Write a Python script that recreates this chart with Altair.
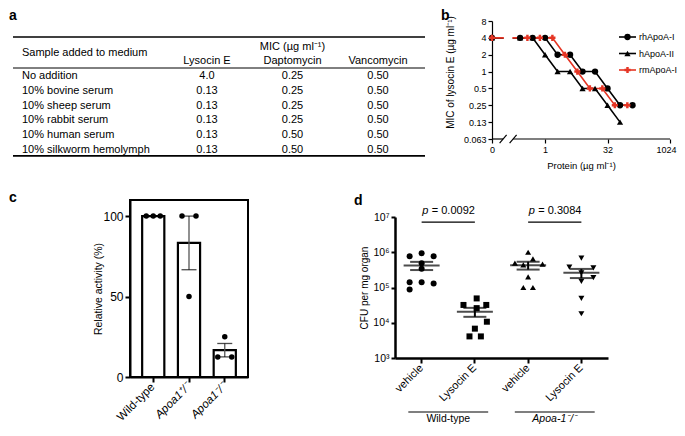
import math
import altair as alt
import pandas as pd

W, H = 669, 416
FONT = "Liberation Sans"
RED = "#e53524"

# ---------------- panel a: table ----------------
a_samples = ["No addition", "10% bovine serum", "10% sheep serum",
             "10% rabbit serum", "10% human serum", "10% silkworm hemolymph"]
a_columns = ["Lysocin E", "Daptomycin", "Vancomycin"]
a_lysocin = [4.0, 0.13, 0.13, 0.13, 0.13, 0.13]
a_daptomycin = [0.25, 0.25, 0.25, 0.25, 0.50, 0.50]
a_vancomycin = [0.50, 0.50, 0.50, 0.50, 0.50, 0.50]
a_header = "Sample added to medium"
a_mic_title = "MIC (µg ml⁻¹)"

# ---------------- panel b ----------------
b_series = ["rhApoA-I", "hApoA-II", "rmApoA-I"]
b_rh_protein = [0, 0.25, 0.5, 1, 2, 4, 8, 16, 32, 64, 128]
b_rh_mic = [4, 4, 4, 4, 2, 2, 1, 1, 0.5, 0.25, 0.25]
b_h_protein = [0, 0.25, 0.5, 1, 2, 4, 8, 16, 32, 64]
b_h_mic = [4, 4, 4, 2, 1, 1, 0.5, 0.5, 0.25, 0.125]
b_rm_protein = [0, 0.375, 0.75, 1.5, 3, 6, 12, 24, 48, 96]
b_rm_mic = [4, 4, 4, 4, 2, 1, 0.5, 0.5, 0.25, 0.25]
b_xticks = [0, 1, 32, 1024]
b_yticks = [0.0625, 0.125, 0.25, 0.5, 1, 2, 4, 8]
b_ytick_labels = ["0.063", "0.13", "0.25", "0.5", "1", "2", "4", "8"]

# ---------------- panel c ----------------
c_genotypes = ["Wild-type", "Apoa1⁺/⁻", "Apoa1⁻/⁻"]
c_wt = [100, 100, 100]
c_het = [100, 50, 100]
c_ko = [12.5, 25, 12.5]
c_jitter = [-1, 0, 1]
c_yticks = [0, 50, 100]

# ---------------- panel d ----------------
d_groups = ["Wild-type|vehicle", "Wild-type|Lysocin E", "Apoa-1|vehicle", "Apoa-1|Lysocin E"]
d_wt_vehicle = [7.7e5, 9.4e5, 7.7e5, 4.9e5, 3.4e5, 1.4e5, 1.4e5, 1.3e5, 8.8e4]
d_wt_vehicle_jitter = [-1, 0, 1, 0, 0, -1, 0, 1, -1]
d_wt_lysocin = [4.9e4, 3.2e4, 2.6e4, 3.2e4, 1.07e4, 6.8e3, 4.1e3, 4.1e3]
d_wt_lysocin_jitter = [0.15, -0.95, 0.15, 0.95, 1.0, 0.0, -0.45, 0.5]
d_ko_vehicle = [1.0e6, 6.5e5, 4.9e5, 4.6e5, 4.4e5, 2.0e5, 1.0e5, 1.0e5]
d_ko_vehicle_jitter = [0, 0.4, -1.1, 1.2, -0.4, 0, -0.4, 0.4]
d_ko_lysocin = [6.8e5, 3.8e5, 3.6e5, 2.6e5, 1.9e5, 1.5e5, 4.9e4, 1.8e4]
d_ko_lysocin_jitter = [0, -1, 1, 0, 1, 0, 0, 0]
d_yticks = [1e3, 1e4, 1e5, 1e6, 1e7]
d_ytick_labels = ["10³", "10⁴", "10⁵", "10⁶", "10⁷"]
d_p_values = ["0.0092", "0.3084"]
d_genotype_labels = ["Wild-type", "Apoa-1⁻/⁻"]


def label_expr(values, labels):
    parts = [f"datum.value == {v!r} ? '{l}'" for v, l in zip(values, labels)]
    return " : ".join(parts) + " : ''"


one = pd.DataFrame({"k": [0]})
layers = []

# ================= panel a =================
def fmt(v):
    return f"{v:.1f}" if v >= 1 else f"{v:.2f}"

a_rows = []
for i, s in enumerate(a_samples):
    for col, vals in zip(a_columns, [a_lysocin, a_daptomycin, a_vancomycin]):
        a_rows.append({"row": i, "column": col, "text": fmt(vals[i])})
a_cells = pd.DataFrame(a_rows)
a_names = pd.DataFrame({"row": list(range(len(a_samples))), "sample": a_samples})

TY = alt.Scale(domain=[-3, 6], range=[23.6, 156.8], nice=False, zero=False)
TX = alt.Scale(type="point", domain=a_columns, range=[199, 370], padding=0)

a_rules = pd.DataFrame({"pos": [-2.64, -0.54, 5.4], "w": [1.6, 1.0, 1.6]})
layers.append(alt.Chart(a_rules).mark_rule(color="black").encode(
    y=alt.Y("pos:Q", scale=TY, axis=None), x=alt.value(5), x2=alt.value(417),
    strokeWidth=alt.StrokeWidth("w:Q", scale=None)))
layers.append(alt.Chart(a_cells).mark_text(fontSize=11, baseline="middle").encode(
    x=alt.X("column:N", scale=TX, axis=None),
    y=alt.Y("row:Q", scale=TY, axis=None),
    text="text:N"))
layers.append(alt.Chart(pd.DataFrame({"column": a_columns})).mark_text(
    fontSize=11, baseline="middle").encode(
    x=alt.X("column:N", scale=TX, axis=None),
    y=alt.YDatum(-1.0, type="quantitative", scale=TY, axis=None),
    text="column:N"))
layers.append(alt.Chart(pd.DataFrame({"t": [a_mic_title]})).mark_text(
    fontSize=11, baseline="middle").encode(
    x=alt.XDatum("Daptomycin", type="nominal", scale=TX, axis=None),
    y=alt.YDatum(-1.96, type="quantitative", scale=TY, axis=None), text="t:N"))
layers.append(alt.Chart(a_names).mark_text(fontSize=11, baseline="middle", align="left").encode(
    x=alt.value(14), y=alt.Y("row:Q", scale=TY, axis=None), text="sample:N"))
layers.append(alt.Chart(pd.DataFrame({"t": [a_header]})).mark_text(
    fontSize=11, baseline="middle", align="left").encode(
    x=alt.value(14), y=alt.YDatum(-1.55, type="quantitative", scale=TY, axis=None), text="t:N"))

# ================= panel b =================
BREAK = -4.25
b_rows = []
for name, prot, mic in zip(b_series, [b_rh_protein, b_h_protein, b_rm_protein],
                           [b_rh_mic, b_h_mic, b_rm_mic]):
    for p, m in zip(prot, mic):
        b_rows.append({"series": name, "protein": p, "mic": m})
b_df = pd.DataFrame(b_rows)
b_df["px"] = [BREAK if p == 0 else math.log2(p) for p in b_df["protein"]]
b_xpos = [BREAK if v == 0 else math.log2(v) for v in b_xticks]

BX = alt.Scale(domain=[BREAK, 10], range=[484, 662], nice=False, zero=False)
BY = alt.Scale(type="log", base=2, domain=[0.0625, 8], range=[131, 13], nice=False)
b_color = alt.Color("series:N", scale=alt.Scale(domain=b_series, range=["black", "black", RED]), legend=None)
b_shape = alt.Shape("series:N", scale=alt.Scale(domain=b_series, range=["circle", "triangle-up", "cross"]), legend=None)
b_size = alt.Size("series:N", scale=alt.Scale(domain=b_series, range=[40, 38, 30]), legend=None)

b_last = b_xpos[-1]
b_xaxis = alt.Axis(orient="bottom", offset=131 - H, values=b_xpos,
                   labelExpr="datum.value < -4 ? '0' : format(pow(2, datum.value), 'd')",
                   domain=False, tickSize=4, tickWidth=1.2, labelFontSize=9, labelPadding=2,
                   labelFlush=False, labelOverlap=False,
                   labelAlign={"condition": {"test": f"datum.value == {b_last}", "value": "right"},
                               "value": "center"},
                   labelOffset={"condition": {"test": f"datum.value == {b_last}", "value": 6},
                                "value": 0},
                   title="Protein (µg ml⁻¹)", titleFontSize=9.5, titleX=573, titleY=26,
                   titleBaseline="middle")
b_yaxis = alt.Axis(orient="left", offset=-484, values=b_yticks,
                   labelExpr=label_expr(b_yticks, b_ytick_labels),
                   tickSize=4, tickWidth=1.2, domainWidth=1.2, labelFontSize=9, labelPadding=2,
                   labelOverlap=False,
                   title="MIC of lysocin E (µg ml⁻¹)", titleFontSize=10, titleX=-42, titleY=64,
                   titleBaseline="middle")

layers.append(alt.Chart(b_df).transform_filter("datum.series != 'rmApoA-I'").mark_line(
    strokeWidth=1.6).encode(
    x=alt.X("px:Q", scale=BX, axis=b_xaxis), y=alt.Y("mic:Q", scale=BY, axis=b_yaxis),
    color=b_color, detail="series:N", order="px:Q"))
layers.append(alt.Chart(b_df).transform_filter("datum.series == 'rmApoA-I'").mark_line(
    strokeWidth=1.6).encode(
    x=alt.X("px:Q", scale=BX, axis=None), y=alt.Y("mic:Q", scale=BY, axis=None),
    color=b_color, order="px:Q"))
layers.append(alt.Chart(one).mark_rect(color="white").encode(
    x=alt.XDatum(-3.3, type="quantitative", scale=BX, axis=None), x2=alt.X2Datum(-2.62),
    y=alt.YDatum(3.0, type="quantitative", scale=BY, axis=None), y2=alt.Y2Datum(5.3)))
layers.append(alt.Chart(b_df).transform_filter("datum.series != 'rmApoA-I'").mark_point(
    filled=True, opacity=1).encode(
    x=alt.X("px:Q", scale=BX, axis=None), y=alt.Y("mic:Q", scale=BY, axis=None),
    color=b_color, shape=b_shape, size=b_size))
layers.append(alt.Chart(b_df).transform_filter("datum.series == 'rmApoA-I'").mark_point(
    filled=True, opacity=1).encode(
    x=alt.X("px:Q", scale=BX, axis=None), y=alt.Y("mic:Q", scale=BY, axis=None),
    color=b_color, shape=b_shape, size=b_size))
ylo, yhi = 0.0625 * 2 ** -0.24, 0.0625 * 2 ** 0.24
b_segs = pd.DataFrame({
    "x1": [BREAK, -2.56, -3.36 - 0.28, -2.56 - 0.28],
    "x2": [-3.36, 10, -3.36 + 0.28, -2.56 + 0.28],
    "y1": [0.0625, 0.0625, ylo, ylo],
    "y2": [0.0625, 0.0625, yhi, yhi]})
layers.append(alt.Chart(b_segs).mark_rule(color="black", strokeWidth=1.2).encode(
    x=alt.X("x1:Q", scale=BX, axis=None), x2="x2:Q",
    y=alt.Y("y1:Q", scale=BY, axis=None), y2="y2:Q"))

# legend of panel b
leg_df = pd.DataFrame({"series": b_series})
LYS = alt.Scale(type="point", domain=b_series, range=[29, 62], padding=0)
LXS = alt.Scale(domain=[0, 1], range=[611, 628], nice=False, zero=False)
layers.append(alt.Chart(leg_df).mark_rule(strokeWidth=1.6).encode(
    x=alt.XDatum(0, type="quantitative", scale=LXS, axis=None), x2=alt.X2Datum(1),
    y=alt.Y("series:N", scale=LYS, axis=None), color=b_color))
layers.append(alt.Chart(leg_df).mark_point(filled=True, opacity=1).encode(
    x=alt.XDatum(0.5, type="quantitative", scale=LXS, axis=None),
    y=alt.Y("series:N", scale=LYS, axis=None),
    color=b_color, shape=b_shape, size=b_size))
layers.append(alt.Chart(leg_df).mark_text(align="left", dx=3, fontSize=9, baseline="middle").encode(
    x=alt.XDatum(1, type="quantitative", scale=LXS, axis=None),
    y=alt.Y("series:N", scale=LYS, axis=None), text="series:N"))

# ================= panel c =================
c_rows = []
for g, vals in zip(c_genotypes, [c_wt, c_het, c_ko]):
    for v, j in zip(vals, c_jitter):
        c_rows.append({"genotype": g, "value": v, "jitter": j})
c_df = pd.DataFrame(c_rows)

CX = alt.Scale(domain=c_genotypes, range=[122, 240], paddingInner=0.38, paddingOuter=0.34)
CY = alt.Scale(domain=[0, 110], range=[369, 192], nice=False, zero=False)
c_xaxis = alt.Axis(orient="bottom", offset=369 - H, tickSize=5, tickWidth=2, domainWidth=2,
                   labelAngle=-45, labelAlign="right", labelBaseline="middle", labelFontSize=11.5,
                   labelPadding=3, labelOverlap=False,
                   labelFontStyle={"condition": {"test": "datum.value != 'Wild-type'", "value": "italic"},
                                   "value": "normal"},
                   title=None)
c_yaxis = alt.Axis(orient="left", offset=-122, values=c_yticks, tickSize=5, tickWidth=2,
                   domainWidth=2, labelFontSize=12, labelPadding=2,
                   title="Relative activity (%)", titleFontSize=10.5, titleX=-32, titleY=280.5,
                   titleBaseline="middle")
layers.append(alt.Chart(c_df).transform_aggregate(mean="mean(value)", groupby=["genotype"]).mark_bar(
    fill="white", stroke="black", strokeWidth=2.2).encode(
    x=alt.X("genotype:N", scale=CX, axis=c_xaxis), y=alt.Y("mean:Q", scale=CY, axis=c_yaxis)))
c_stats = alt.Chart(c_df).transform_aggregate(
    mean="mean(value)", sem="stderr(value)", groupby=["genotype"]).transform_calculate(
    lo="datum.mean - datum.sem", hi="datum.mean + datum.sem")
layers.append(c_stats.mark_rule(color="#555", strokeWidth=1.3).encode(
    x=alt.X("genotype:N", scale=CX, axis=None), y=alt.Y("lo:Q", scale=CY, axis=None), y2="hi:Q"))
layers.append(c_stats.transform_fold(["lo", "hi"], as_=["k", "v"]).mark_tick(
    size=15, thickness=1.3, color="black").encode(
    x=alt.X("genotype:N", scale=CX, axis=None), y=alt.Y("v:Q", scale=CY, axis=None)))
layers.append(alt.Chart(c_df).mark_circle(size=30, color="black", opacity=1).encode(
    x=alt.X("genotype:N", scale=CX, axis=None),
    xOffset=alt.XOffset("jitter:Q", scale=alt.Scale(domain=[-1, 1], range=[4.1, 18.1])),
    y=alt.Y("value:Q", scale=CY, axis=None)))
layers.append(alt.Chart(one).mark_rect(fillOpacity=0, stroke="black", strokeWidth=2).encode(
    x=alt.XDatum(0, type="quantitative",
                 scale=alt.Scale(domain=[0, 1], range=[122, 240], nice=False, zero=False), axis=None),
    x2=alt.X2Datum(1),
    y=alt.YDatum(0, type="quantitative", scale=CY, axis=None), y2=alt.Y2Datum(110)))

# ================= panel d =================
d_rows = []
for g, vals, jit in zip(d_groups, [d_wt_vehicle, d_wt_lysocin, d_ko_vehicle, d_ko_lysocin],
                        [d_wt_vehicle_jitter, d_wt_lysocin_jitter, d_ko_vehicle_jitter, d_ko_lysocin_jitter]):
    for v, j in zip(vals, jit):
        d_rows.append({"group": g, "value": v, "jitter": j})
d_df = pd.DataFrame(d_rows)

D_LEFT, D_RIGHT = 387, 600
D_HALF_STEP = (D_RIGHT - D_LEFT) / len(d_groups) / 2
DX = alt.Scale(domain=d_groups, range=[D_LEFT, D_RIGHT], paddingInner=0, paddingOuter=0)
DY = alt.Scale(type="log", domain=[1e3, 1e7], range=[350, 209], nice=False)
d_xaxis = alt.Axis(orient="bottom", offset=350 - H, labelExpr="split(datum.value, '|')[1]",
                   tickSize=5, tickWidth=2, domainWidth=2.5, labelAngle=-45, labelAlign="right",
                   labelBaseline="middle", labelFontSize=11, labelPadding=3, labelOverlap=False,
                   title=None)
d_yaxis = alt.Axis(orient="left", offset=-387, values=d_yticks,
                   labelExpr=label_expr(d_yticks, d_ytick_labels),
                   tickSize=4, tickWidth=2, domainWidth=2.5, labelFontSize=10.5, labelPadding=2,
                   labelOverlap=False,
                   title="CFU per mg organ", titleFontSize=10, titleX=-31, titleY=279.5,
                   titleBaseline="middle")
layers.append(alt.Chart(d_df).mark_point(filled=True, opacity=1, color="black", size=36).encode(
    x=alt.X("group:N", scale=DX, axis=d_xaxis),
    xOffset=alt.XOffset("jitter:Q", scale=alt.Scale(domain=[-1, 1],
                        range=[D_HALF_STEP - 12, D_HALF_STEP + 12])),
    y=alt.Y("value:Q", scale=DY, axis=d_yaxis),
    shape=alt.Shape("group:N", scale=alt.Scale(domain=d_groups,
                    range=["circle", "square", "triangle-up", "triangle-down"]), legend=None)))
d_stats = alt.Chart(d_df).transform_aggregate(
    mean="mean(value)", sem="stderr(value)", groupby=["group"]).transform_calculate(
    lo="datum.mean - datum.sem", hi="datum.mean + datum.sem")
layers.append(d_stats.mark_rule(strokeWidth=2, color="black").encode(
    x=alt.X("group:N", scale=DX, axis=None), y=alt.Y("lo:Q", scale=DY, axis=None), y2="hi:Q"))
layers.append(d_stats.transform_fold(["lo", "hi"], as_=["k", "v"]).mark_tick(
    size=23, thickness=2, color="black").encode(
    x=alt.X("group:N", scale=DX, axis=None), y=alt.Y("v:Q", scale=DY, axis=None)))
layers.append(d_stats.mark_tick(size=36, thickness=2, color="black").encode(
    x=alt.X("group:N", scale=DX, axis=None), y=alt.Y("mean:Q", scale=DY, axis=None)))

d_pairs = pd.DataFrame({"g1": [d_groups[0], d_groups[2]], "g2": [d_groups[1], d_groups[3]],
                        "p": ["= " + p for p in d_p_values], "geno": d_genotype_labels})
layers.append(alt.Chart(d_pairs).mark_rule(strokeWidth=1.2, color="black").encode(
    x=alt.X("g1:N", scale=DX, axis=None, bandPosition=0.5), x2=alt.X2("g2:N", bandPosition=0.5),
    y=alt.YDatum(7.2e6, type="quantitative", scale=DY, axis=None)))
# text anchored at the centre of the first group's band, shifted to the pair's midpoint
layers.append(alt.Chart(d_pairs).mark_text(fontSize=11, fontStyle="italic", align="right",
                                           dx=D_HALF_STEP - 20, baseline="middle").encode(
    x=alt.X("g1:N", scale=DX, axis=None),
    y=alt.YDatum(1.45e7, type="quantitative", scale=DY, axis=None),
    text=alt.value("p")))
layers.append(alt.Chart(d_pairs).mark_text(fontSize=11, align="left", dx=D_HALF_STEP - 16.5,
                                           baseline="middle").encode(
    x=alt.X("g1:N", scale=DX, axis=None),
    y=alt.YDatum(1.45e7, type="quantitative", scale=DY, axis=None),
    text="p:N"))
layers.append(alt.Chart(d_pairs).mark_rule(strokeWidth=1.2, color="black").encode(
    x=alt.X("g1:N", scale=DX, axis=None, bandPosition=0.25), x2=alt.X2("g2:N", bandPosition=0.75),
    y=alt.value(404)))
layers.append(alt.Chart(d_pairs).transform_filter(f"datum.geno == '{d_genotype_labels[0]}'").mark_text(
    fontSize=10.5, baseline="middle", dx=D_HALF_STEP).encode(
    x=alt.X("g1:N", scale=DX, axis=None), y=alt.value(410.5), text="geno:N"))
layers.append(alt.Chart(d_pairs).transform_filter(f"datum.geno == '{d_genotype_labels[1]}'").mark_text(
    fontSize=10.5, baseline="middle", fontStyle="italic", dx=D_HALF_STEP).encode(
    x=alt.X("g1:N", scale=DX, axis=None), y=alt.value(410.5), text="geno:N"))

# ================= panel letters =================
for t, x, y, base in [("a", 1, 1, "top"), ("b", 433, 1, "top"), ("c", 1, 190, "middle"), ("d", 346, 193, "middle")]:
    layers.append(alt.Chart(pd.DataFrame({"t": [t]})).mark_text(
        fontSize=14, fontWeight="bold", align="left", baseline=base).encode(
        x=alt.value(x), y=alt.value(y), text="t:N"))

chart = alt.layer(*layers).resolve_scale(
    x="independent", y="independent", color="independent", shape="independent",
    size="independent", xOffset="independent").properties(
    width=W, height=H, autosize=alt.AutoSizeParams(type="none"), padding=0
).configure(font=FONT).configure_view(stroke=None).configure_axis(
    grid=False, domainColor="black", tickColor="black", labelColor="black", titleColor="black",
    labelFont=FONT, titleFont=FONT, titleFontWeight="normal"
).configure_text(font=FONT, color="black")

chart.save("out.html", embed_options={"renderer": "svg", "actions": False})
